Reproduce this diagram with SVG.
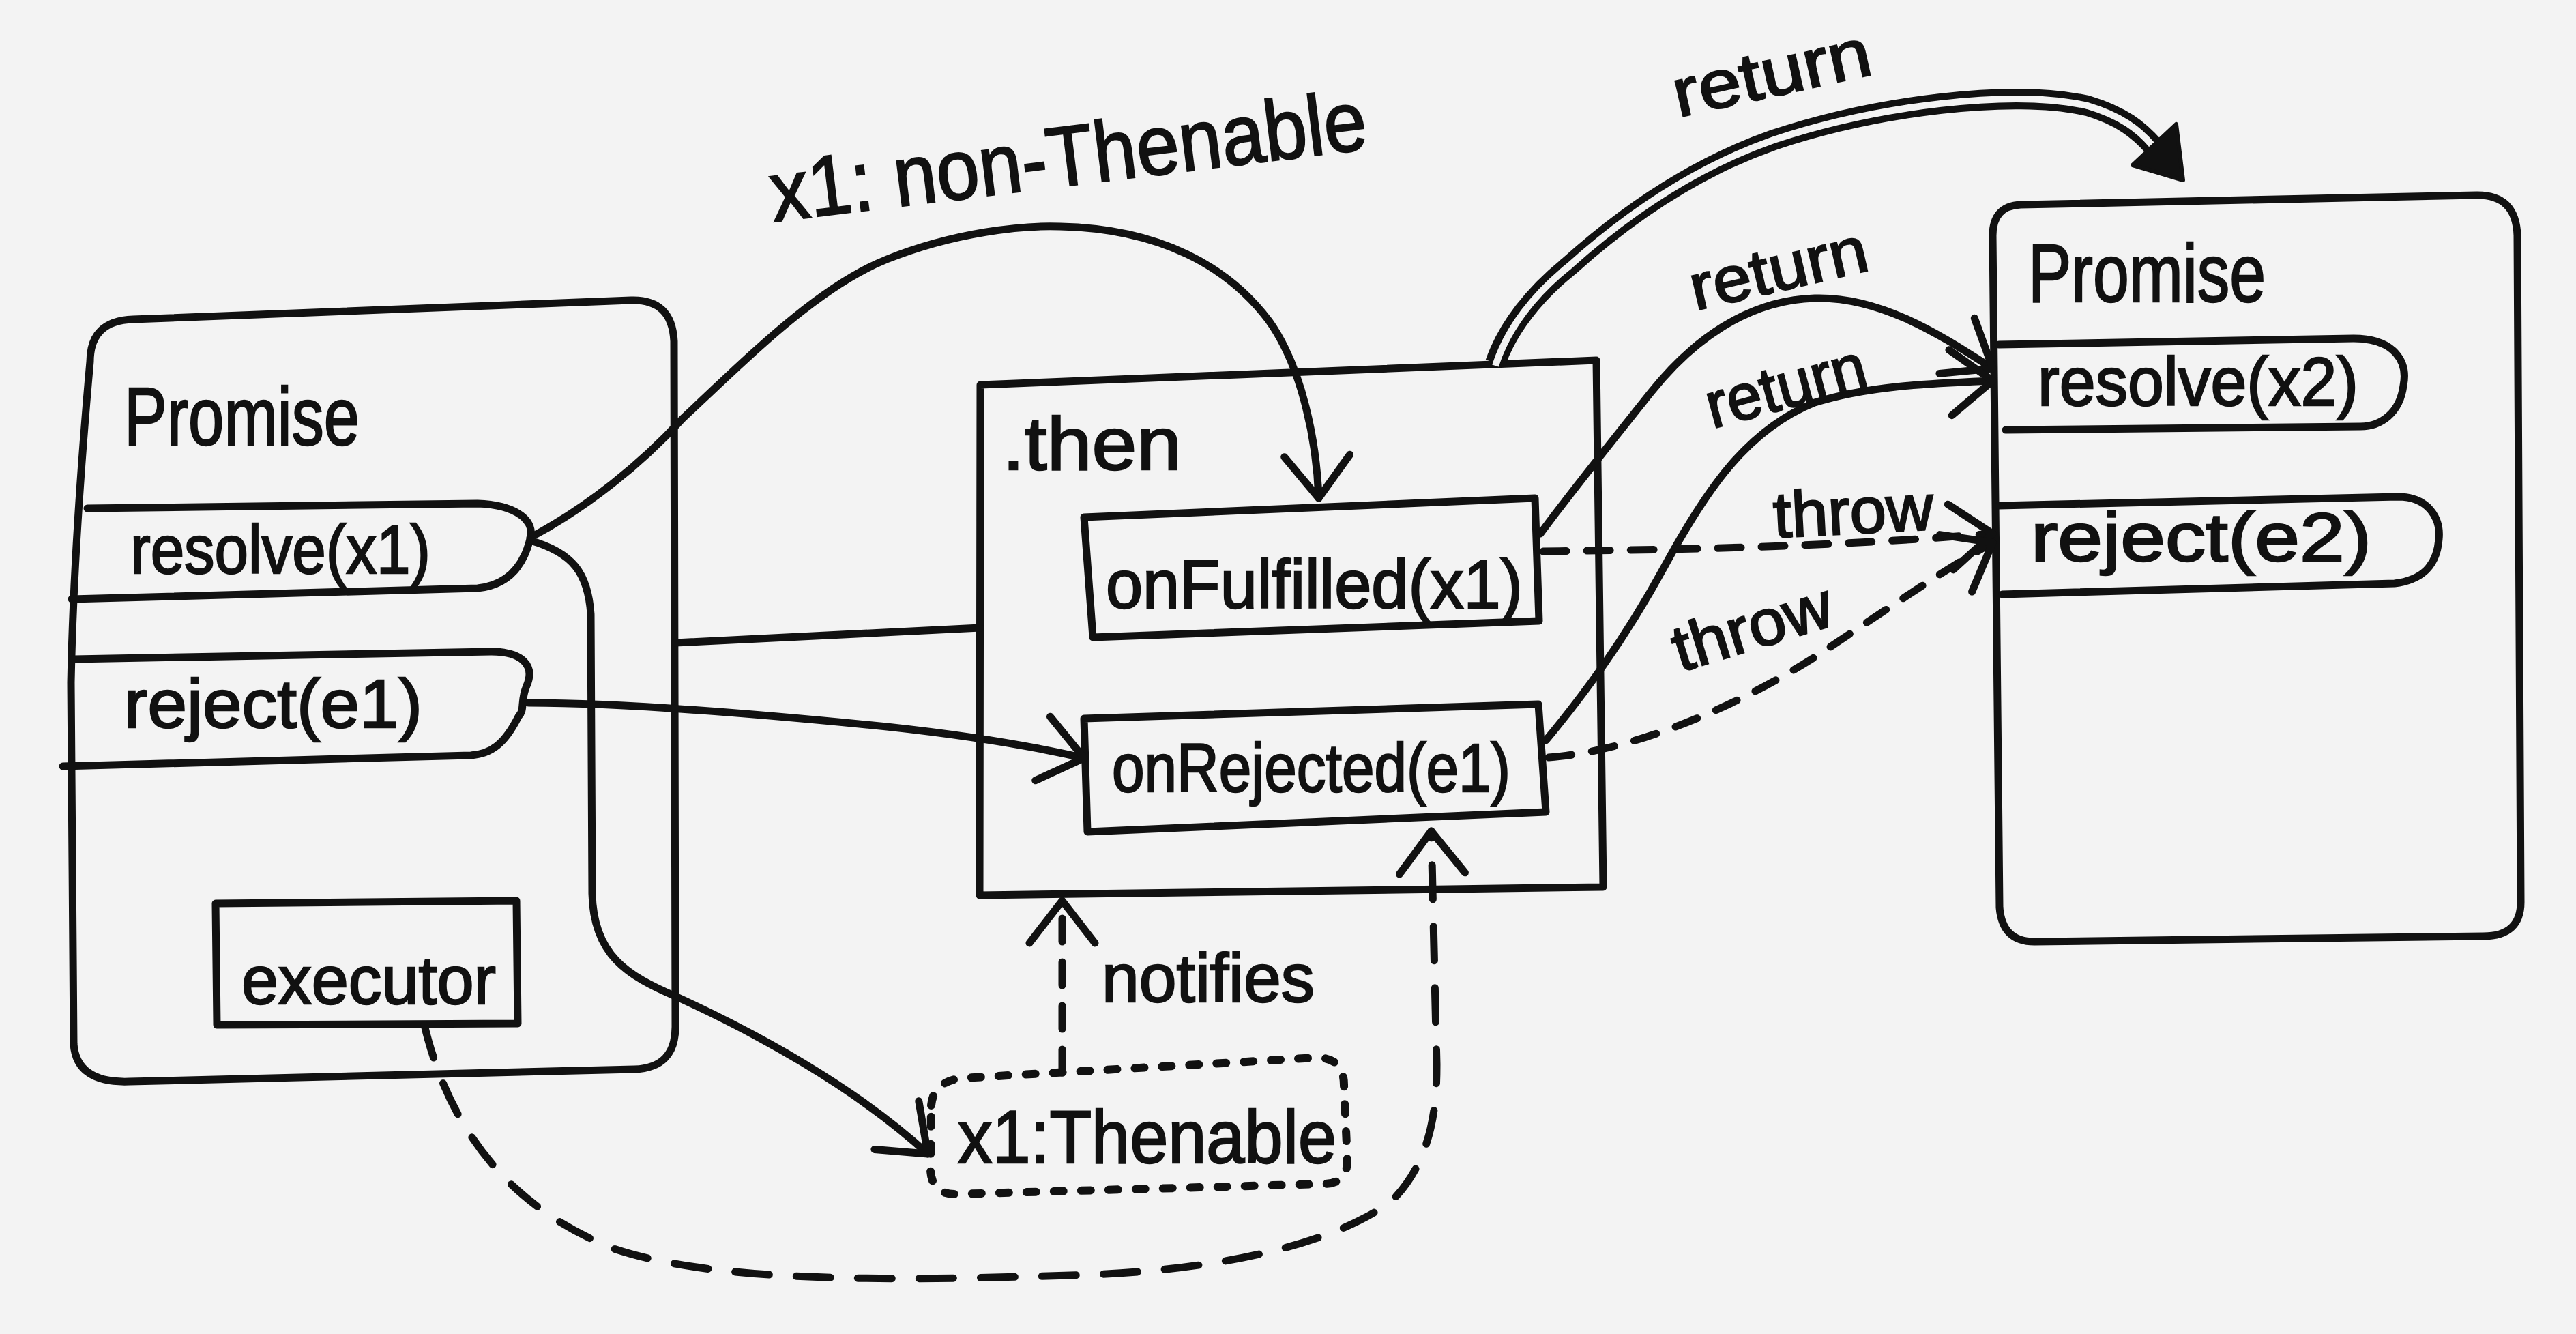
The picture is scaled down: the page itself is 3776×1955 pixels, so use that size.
<svg xmlns="http://www.w3.org/2000/svg" width="3776" height="1955" viewBox="0 0 3776 1955">
<style>
.ink{fill:none;stroke:#111;stroke-width:11;stroke-linecap:round;stroke-linejoin:round}
.txt{fill:#111;stroke:#111;stroke-width:2.5;font-family:"Liberation Sans","DejaVu Sans",sans-serif}
.dash{stroke-dasharray:34 30}
.dlong{stroke-dasharray:50 40}
.dot{stroke-dasharray:14 26;stroke-width:12}
</style>
<defs>
<marker id="arr" viewBox="-80 -60 90 120" markerWidth="90" markerHeight="120" refX="0" refY="0" orient="auto" markerUnits="userSpaceOnUse">
<path d="M-62,-48 L0,0 L-62,48" fill="none" stroke="#111" stroke-width="11" stroke-linecap="round" stroke-linejoin="round"/>
</marker>
</defs>
<rect x="0" y="0" width="3776" height="1955" fill="#f3f3f3"/>

<g id="left-promise">
<path class="ink" d="M132,530 Q132,470 195,468 L925,440 Q985,438 988,500 L990,1505 Q990,1565 930,1567 L190,1585 Q112,1588 108,1530 L104,1000 Q108,800 132,530 Z"/>
<text class="txt" x="182" y="652" font-size="120" textLength="345" lengthAdjust="spacingAndGlyphs">Promise</text>
</g>
<g id="resolve-x1">
<path class="ink" d="M128,745 L700,738 C760,740 785,765 777,790 C766,835 740,858 700,862 L105,878"/>
<text class="txt" x="191" y="840" font-size="100" textLength="440" lengthAdjust="spacingAndGlyphs">resolve(x1)</text>
</g>
<g id="reject-e1">
<path class="ink" d="M108,966 L720,955 C765,955 785,975 772,1005 C762,1028 770,1040 760,1050 C740,1090 720,1105 690,1107 L92,1123"/>
<text class="txt" x="182" y="1066" font-size="100" textLength="437" lengthAdjust="spacingAndGlyphs">reject(e1)</text>
</g>
<g id="executor">
<path class="ink" d="M316,1324 L757,1320 L759,1500 L318,1502 Z"/>
<text class="txt" x="354" y="1471" font-size="100" textLength="373" lengthAdjust="spacingAndGlyphs">executor</text>
</g>

<g id="then">
<path class="ink" d="M1437,564 L2340,528 L2350,1300 L1436,1312 Z"/>
<text class="txt" x="1469" y="688" font-size="110" textLength="263" lengthAdjust="spacingAndGlyphs">.then</text>
</g>
<g id="onFulfilled">
<path class="ink" d="M1589,758 L2250,730 L2256,910 L1602,934 Z"/>
<text class="txt" x="1621" y="891" font-size="100" textLength="611" lengthAdjust="spacingAndGlyphs">onFulfilled(x1)</text>
</g>
<g id="onRejected">
<path class="ink" d="M1589,1053 L2255,1032 L2266,1190 L1594,1219 Z"/>
<text class="txt" x="1630" y="1160" font-size="100" textLength="584" lengthAdjust="spacingAndGlyphs">onRejected(e1)</text>
</g>

<g id="right-promise">
<path class="ink" d="M2921,345 Q2921,302 2962,300 L3630,286 Q3688,285 3690,345 L3695,1320 Q3696,1372 3640,1372 L2982,1380 Q2935,1380 2931,1330 Z"/>
<text class="txt" x="2973" y="442" font-size="120" textLength="348" lengthAdjust="spacingAndGlyphs">Promise</text>
</g>
<g id="resolve-x2">
<path class="ink" d="M2930,505 L3450,496 C3510,496 3530,530 3523,565 C3518,605 3490,625 3460,625 L2940,630"/>
<text class="txt" x="2987" y="594" font-size="100" textLength="470" lengthAdjust="spacingAndGlyphs">resolve(x2)</text>
</g>
<g id="reject-e2">
<path class="ink" d="M2930,741 L3515,728 C3560,728 3578,760 3575,790 C3572,830 3550,850 3510,855 L2935,871"/>
<text class="txt" x="2977" y="822" font-size="100" textLength="499" lengthAdjust="spacingAndGlyphs">reject(e2)</text>
</g>

<g id="thenable">
<path class="ink dot" d="M1365,1620 Q1368,1585 1410,1580 L1930,1550 Q1970,1550 1970,1590 L1975,1700 Q1975,1735 1940,1735 L1400,1750 Q1366,1750 1364,1715 Z"/>
<text class="txt" x="1404" y="1704" font-size="110" textLength="555" lengthAdjust="spacingAndGlyphs">x1:Thenable</text>
</g>

<g id="connectors">
<path class="ink" marker-end="url(#arr)" d="M777,788 C860,744 940,680 1000,614 C1100,520 1200,420 1300,380 C1400,340 1500,330 1554,332 C1700,335 1800,390 1860,470 C1910,540 1930,650 1933,730"/>
<path class="ink" marker-end="url(#arr)" d="M777,792 C840,810 862,840 866,900 L868,1310 C870,1400 920,1430 990,1460 C1100,1510 1250,1590 1360,1691"/>
<path class="ink" d="M990,942 L1437,920"/>
<path class="ink" marker-end="url(#arr)" d="M775,1030 C900,1030 1100,1045 1300,1065 C1420,1078 1520,1095 1589,1111"/>
<path class="ink dlong" marker-end="url(#arr)" d="M622,1502 C650,1620 720,1760 900,1830 C1050,1880 1300,1878 1600,1868 C1800,1860 1960,1820 2040,1760 C2100,1700 2106,1620 2106,1560 L2098,1218"/>
<path class="ink dash" marker-end="url(#arr)" d="M1557,1572 L1557,1320"/>
<path fill="none" stroke="#111" stroke-width="30" stroke-linecap="butt" d="M2192,532 C2210,480 2250,430 2300,390 C2400,300 2500,240 2600,205 C2750,155 2950,130 3060,155 C3110,170 3135,190 3158,216"/>
<path fill="none" stroke="#f3f3f3" stroke-width="10" stroke-linecap="butt" d="M2192,536 C2210,480 2250,430 2300,390 C2400,300 2500,240 2600,205 C2750,155 2950,130 3060,155 C3110,170 3135,190 3154,212"/>
<polygon points="3126,242 3190,182 3200,264" fill="#111" stroke="#111" stroke-width="6" stroke-linejoin="round"/>
<path class="ink" marker-end="url(#arr)" d="M2258,782 C2300,725 2360,650 2420,575 C2480,500 2560,440 2660,437 C2760,434 2850,495 2921,540"/>
<path class="ink" marker-end="url(#arr)" d="M2266,1085 C2320,1020 2380,940 2440,830 C2500,720 2560,630 2660,590 C2740,565 2830,562 2921,558"/>
<path class="ink dash" marker-end="url(#arr)" d="M2262,808 C2500,805 2700,800 2921,782"/>
<path class="ink dash" marker-end="url(#arr)" d="M2270,1110 C2400,1100 2560,1030 2680,950 C2770,890 2850,835 2921,795"/>
</g>

<g id="labels">
<text class="txt" x="1134" y="325" font-size="125" textLength="880" lengthAdjust="spacingAndGlyphs" transform="rotate(-7 1134 325)">x1: non-Thenable</text>
<text class="txt" x="2460" y="172" font-size="100" textLength="295" lengthAdjust="spacingAndGlyphs" transform="rotate(-12.5 2460 172)">return</text>
<text class="txt" x="2485" y="455" font-size="95" textLength="265" lengthAdjust="spacingAndGlyphs" transform="rotate(-13 2485 455)">return</text>
<text class="txt" x="2510" y="628" font-size="95" textLength="240" lengthAdjust="spacingAndGlyphs" transform="rotate(-15 2510 628)">return</text>
<text class="txt" x="2601" y="788" font-size="95" textLength="235" lengthAdjust="spacingAndGlyphs" transform="rotate(-3 2601 788)">throw</text>
<text class="txt" x="2463" y="985" font-size="95" textLength="240" lengthAdjust="spacingAndGlyphs" transform="rotate(-17 2463 985)">throw</text>
<text class="txt" x="1615" y="1468" font-size="100" textLength="312" lengthAdjust="spacingAndGlyphs">notifies</text>
</g>
</svg>
